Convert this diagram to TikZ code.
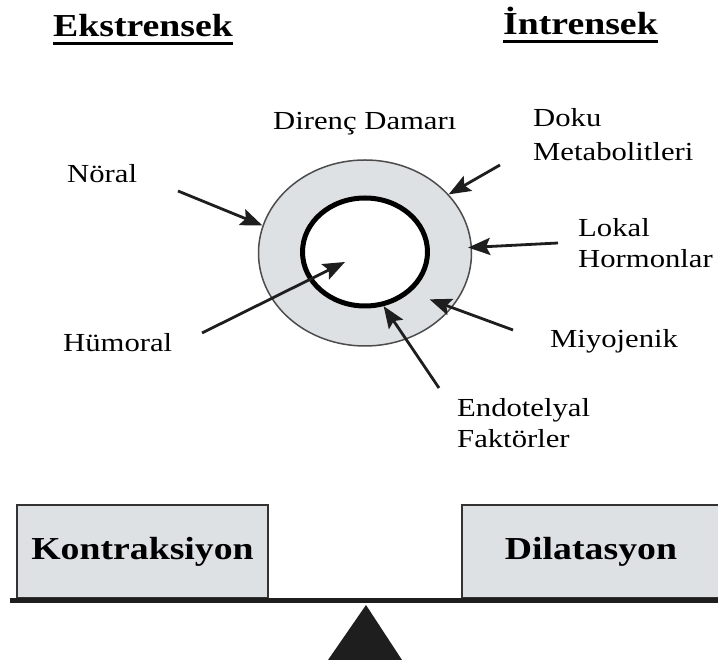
\documentclass[tikz,border=0pt]{standalone}
\usepackage{fontspec}
\setmainfont{Liberation Serif}[FakeStretch=1.18]
\usetikzlibrary{positioning, arrows.meta, calc, shapes.geometric}
\definecolor{ringgray}{RGB}{221,225,228}
\definecolor{ink}{RGB}{30,30,30}

\begin{document}
\begin{tikzpicture}[x=1pt, y=1pt,
	lbl/.style={inner sep=0pt, anchor=base west, align=left, font=\fontsize{26}{31}\selectfont},
	title/.style={inner sep=0pt, anchor=base west, font=\fontsize{32}{36}\selectfont\bfseries},
	arr/.style={draw=ink, line width=2.8pt, -{Stealth[length=22pt, width=17pt, inset=4pt]}},
	weight/.style={draw=black!80, line width=2.5pt, fill=ringgray, minimum height=93pt, font=\fontsize{32}{36}\selectfont\bfseries}]
	\useasboundingbox (0,0) rectangle (718,664);
	
	% vessel
	\node[ellipse, draw=black!70, line width=1.5pt, fill=ringgray, minimum width=213pt, minimum height=186pt, inner sep=0pt] (ring) at (365,411) {};
	\node[ellipse, draw=black, line width=5pt, fill=white, minimum width=125pt, minimum height=108pt, inner sep=0pt] (lumen) at (365,412) {};
	
	% headings
	\node[title] (ekstr) at (53,627) {Ekstrensek};
	\node[title] (intr) at (503,629) {İntrensek};
	\draw[line width=3.5pt] ([yshift=-6.5pt]ekstr.base west) -- ([yshift=-6.5pt]ekstr.base east);
	\draw[line width=3.5pt] ([yshift=-6.5pt]intr.base west) -- ([yshift=-6.5pt]intr.base east);
	
	% labels (base = last line)
	\node[lbl] (direnc) at (273,534) {Direnç Damarı};
	\node[lbl] (noral) at (67,481) {Nöral};
	\node[lbl] (humoral) at (63,312) {Hümoral};
	\node[lbl] (doku) at (533,503) {Doku\\[3pt]Metabolitleri};
	\node[lbl] (lokal) at (578,396) {Lokal\\Hormonlar};
	\node[lbl] (miyo) at (550,316) {Miyojenik};
	\node[lbl] (endo) at (457,216) {Endotelyal\\Faktörler};
	
	% arrows
	\coordinate (noralT) at (178,473);
	\coordinate (humoralT) at (202,331);
	\coordinate (dokuT) at (500,499);
	\coordinate (lokalT) at (558,421);
	\coordinate (miyoT) at (513,334);
	\coordinate (endoT) at (439,276);
	\coordinate (humoralH) at ($(lumen.center)+(-20,-10)$);
	\coordinate (miyoH) at ($(lumen.-36)!0.45!(ring.-36)$);
	\draw[arr] (noralT) -- (ring.165);
	\draw[arr] (humoralT) -- (humoralH);
	\draw[arr] (dokuT) -- (ring.35);
	\draw[arr, shorten >=-4pt] (lokalT) -- (ring.3);
	\draw[arr] (miyoT) -- (miyoH);
	\draw[arr] (endoT) -- (lumen.-71);
	
	% balance
	\node[weight, minimum width=251pt] (kontr) at (142.5,112.5) {Kontraksiyon};
	\node[weight, minimum width=258pt] (dilat) at (591,112.5) {Dilatasyon};
	\draw[ink, line width=5pt] (10,63) -- (718,63);
	\fill[ink] (366,59) -- (402,4) -- (328,4) -- cycle;
\end{tikzpicture}
\end{document}
